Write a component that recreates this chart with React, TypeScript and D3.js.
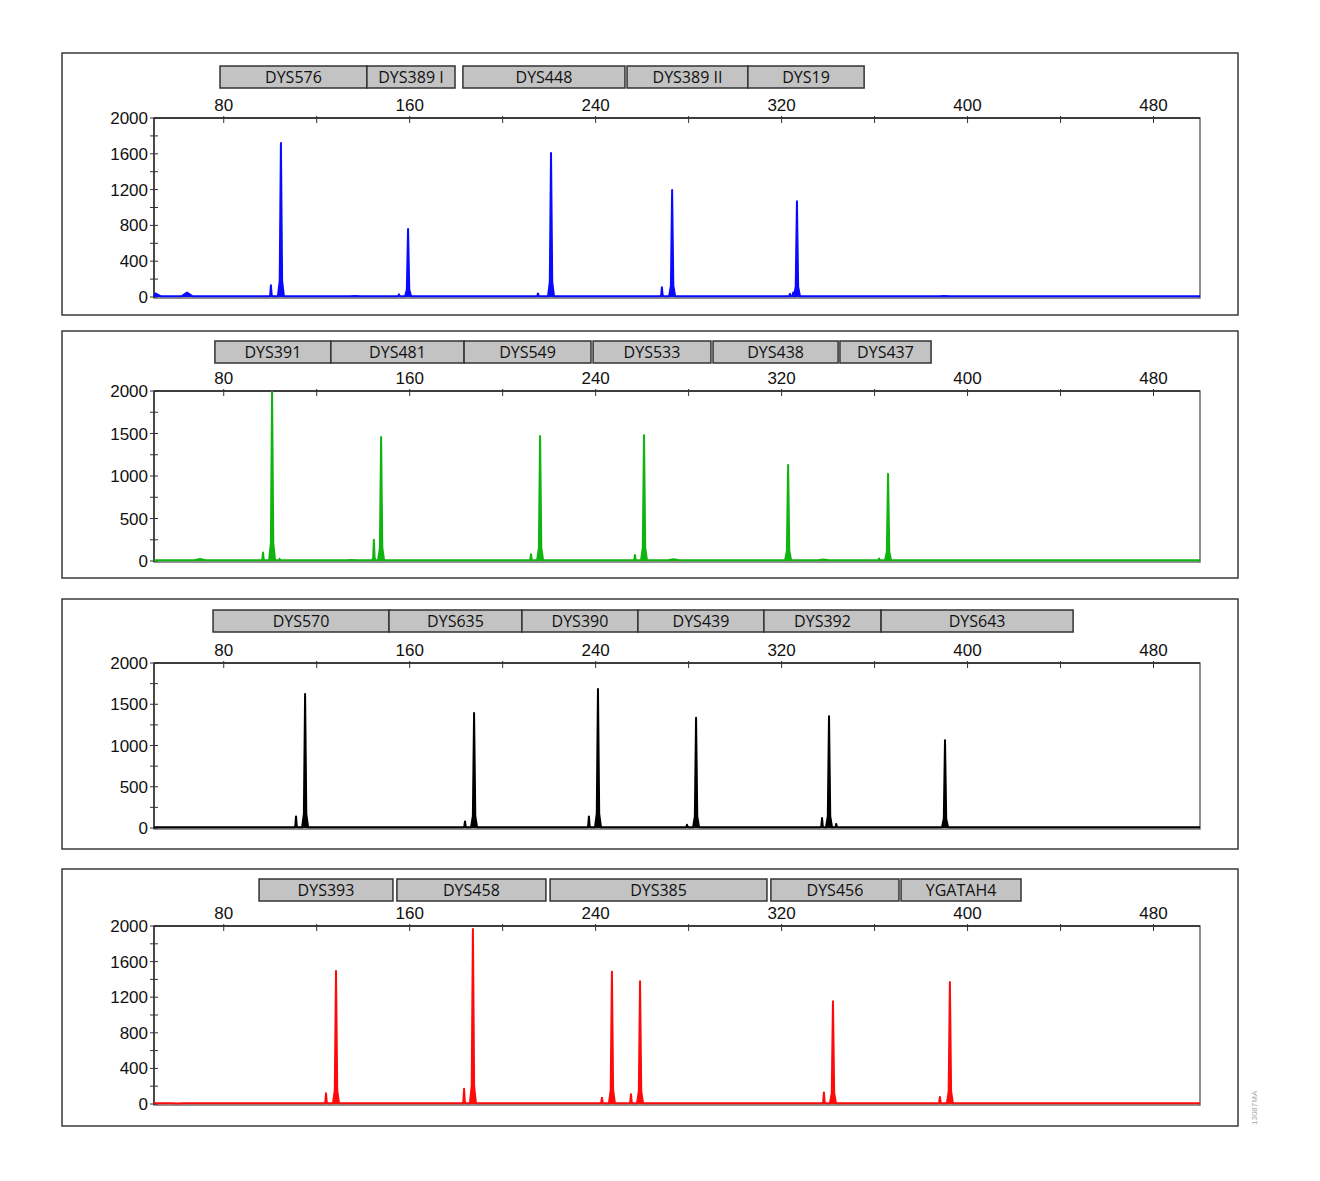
import React from 'react';
import * as d3 from 'd3';

// size axis (bp)
const sizeDomain = [50, 500];
const sizeTicks = [80, 120, 160, 200, 240, 280, 320, 360, 400, 440, 480];
const sizeLabels = [80, 160, 240, 320, 400, 480];

// RFU ticks
const rfuTicks400 = [0, 200, 400, 600, 800, 1000, 1200, 1400, 1600, 1800, 2000];
const rfuLabels400 = [0, 400, 800, 1200, 1600, 2000];
const rfuTicks500 = [0, 250, 500, 750, 1000, 1250, 1500, 1750, 2000];
const rfuLabels500 = [0, 500, 1000, 1500, 2000];

// bins: [name, start bp, end bp]
const blueBins: [string, number, number][] = [
  ['DYS576', 78.4, 141.6], ['DYS389 I', 141.6, 179.5], ['DYS448', 182.9, 252.6],
  ['DYS389 II', 253.5, 305.5], ['DYS19', 305.5, 355.5],
];
const greenBins: [string, number, number][] = [
  ['DYS391', 76.2, 126.1], ['DYS481', 126.1, 183.4], ['DYS549', 183.4, 238.0],
  ['DYS533', 238.9, 289.6], ['DYS438', 290.5, 344.3], ['DYS437', 345.1, 384.3],
];
const blackBins: [string, number, number][] = [
  ['DYS570', 75.4, 151.1], ['DYS635', 151.1, 208.3], ['DYS390', 208.3, 258.2],
  ['DYS439', 258.2, 312.4], ['DYS392', 312.4, 362.8], ['DYS643', 362.8, 445.4],
];
const redBins: [string, number, number][] = [
  ['DYS393', 95.2, 152.8], ['DYS458', 154.5, 218.6], ['DYS385', 220.4, 313.7],
  ['DYS456', 315.4, 370.5], ['YGATAH4', 371.4, 423.0],
];

// peaks: [bp, RFU]
const bluePeaks: [number, number][] = [
  [100.3, 130], [104.6, 1720], [155.4, 30], [159.3, 760], [215.2, 40], [220.8, 1610],
  [268.5, 110], [272.9, 1195], [323.6, 35], [325.0, 50], [326.6, 1070],
];
const greenPeaks: [number, number][] = [
  [96.9, 100], [100.8, 1990], [104.0, 25], [144.6, 250], [147.7, 1460], [212.2, 80],
  [216.1, 1470], [256.9, 70], [260.8, 1480], [322.8, 1130], [361.9, 30], [365.8, 1025],
];
const blackPeaks: [number, number][] = [
  [111.1, 140], [115.0, 1625], [183.8, 80], [187.7, 1395], [237.1, 140], [241.0, 1685],
  [279.3, 40], [283.2, 1335], [337.4, 120], [340.4, 1355], [343.5, 50], [390.3, 1065],
];
const redPeaks: [number, number][] = [
  [124.0, 120], [128.3, 1495], [183.4, 170], [187.2, 1965], [242.7, 70], [247.0, 1485],
  [255.2, 110], [259.1, 1380], [338.2, 130], [342.1, 1155], [388.1, 80], [392.4, 1370],
];

// broad low bumps: [bp, RFU]
const blueBumps: [number, number][] = [[50.6, 40], [64.2, 50], [136.5, 12], [390, 10]];
const greenBumps: [number, number][] = [[69.8, 25], [135, 12], [273.5, 22], [338, 18]];
const blackBumps: [number, number][] = [[60, 8], [250, 8]];
const redBumps: [number, number][] = [[60, 6]];

const panels = [
  { bins: blueBins, peaks: bluePeaks, bumps: blueBumps, color: '#0a0aff', ticks: rfuTicks400, labels: rfuLabels400, top: 53, bottom: 315, binY: 66, axisY: 118, zeroY: 297 },
  { bins: greenBins, peaks: greenPeaks, bumps: greenBumps, color: '#10b410', ticks: rfuTicks500, labels: rfuLabels500, top: 331, bottom: 578, binY: 341, axisY: 391, zeroY: 561 },
  { bins: blackBins, peaks: blackPeaks, bumps: blackBumps, color: '#000000', ticks: rfuTicks500, labels: rfuLabels500, top: 599, bottom: 849, binY: 610, axisY: 663, zeroY: 828 },
  { bins: redBins, peaks: redPeaks, bumps: redBumps, color: '#ff0a0a', ticks: rfuTicks400, labels: rfuLabels400, top: 869, bottom: 1126, binY: 879, axisY: 926, zeroY: 1104 },
];

const x = d3.scaleLinear().domain(sizeDomain).range([154, 1200]);
const baseRfu = 8;

function tracePoints(peaks: [number, number][], bumps: [number, number][]) {
  const pts: [number, number][] = [];
  const items = [
    ...peaks.map(([b, h]) => ({ b, h, w: h > 300 ? 1.3 : 0.8, spike: true })),
    ...bumps.map(([b, h]) => ({ b, h, w: 2.4, spike: false })),
  ].sort((a, c) => a.b - c.b);
  pts.push([sizeDomain[0], baseRfu]);
  items.forEach(({ b, h, w, spike }) => {
    const l = Math.max(sizeDomain[0], b - w);
    pts.push([l, baseRfu]);
    if (spike) pts.push([b - w * 0.4, baseRfu + (h - baseRfu) * 0.1]);
    pts.push([b, h]);
    if (spike) pts.push([b + w * 0.4, baseRfu + (h - baseRfu) * 0.1]);
    pts.push([b + w, baseRfu]);
  });
  pts.push([sizeDomain[1], baseRfu]);
  return pts;
}

function Panel({ p }: { p: typeof panels[number] }) {
  const y = d3.scaleLinear().domain([0, 2000]).range([p.zeroY, p.axisY]);
  const line = d3.line<[number, number]>()
    .x(d => x(d[0]))
    .y(d => y(d[1]));
  const area = d3.area<[number, number]>()
    .x(d => x(d[0]))
    .y0(y(0))
    .y1(d => y(d[1]));
  const pts = tracePoints(p.peaks, p.bumps);
  const binH = 22;
  return (
    <g>
      <rect x={62} y={p.top} width={1176} height={p.bottom - p.top} fill="none" stroke="#3a3a3a" strokeWidth={1.5} />
      {p.bins.map(([name, s, e]) => (
        <g key={name}>
          <rect x={x(s)} y={p.binY} width={x(e) - x(s)} height={binH} fill="#c3c3c3" stroke="#333" strokeWidth={1.5} />
          <text x={(x(s) + x(e)) / 2} y={p.binY + binH / 2 + 6} textAnchor="middle"
            fontFamily="'Open Sans', sans-serif" fontSize={16} fill="#111">{name}</text>
        </g>
      ))}
      {/* frame */}
      <rect x={x(sizeDomain[0])} y={p.axisY} width={x(sizeDomain[1]) - x(sizeDomain[0])}
        height={p.zeroY + 1 - p.axisY} fill="none" stroke="#555" strokeWidth={1.3} />
      <line x1={x(sizeDomain[0])} x2={x(sizeDomain[1])} y1={p.axisY} y2={p.axisY} stroke="#222" strokeWidth={1.3} />
      <line x1={x(sizeDomain[0])} x2={x(sizeDomain[0])} y1={p.axisY} y2={p.zeroY + 1} stroke="#222" strokeWidth={1.3} />
      {sizeTicks.map(t => (
        <line key={t} x1={x(t)} x2={x(t)} y1={p.axisY - 2} y2={p.axisY + 5} stroke="#333" strokeWidth={1} />
      ))}
      {sizeLabels.map(t => (
        <text key={t} x={x(t)} y={p.axisY - 7} textAnchor="middle"
          fontFamily="'Liberation Sans', Arial, sans-serif" fontSize={17} fill="#111">{t}</text>
      ))}
      {p.ticks.map(t => (
        <line key={t} x1={x(sizeDomain[0]) - 4} x2={x(sizeDomain[0]) + 4} y1={y(t)} y2={y(t)} stroke="#333" strokeWidth={1} />
      ))}
      {p.labels.map(t => (
        <text key={t} x={x(sizeDomain[0]) - 6} y={y(t) + 6} textAnchor="end"
          fontFamily="'Liberation Sans', Arial, sans-serif" fontSize={17} fill="#111">{t}</text>
      ))}
      <path d={area(pts) || ''} fill={p.color} stroke="none" />
      <path d={line(pts) || ''} fill="none" stroke={p.color} strokeWidth={2} strokeLinejoin="round" />
    </g>
  );
}

export default function App() {
  return (
    <svg width={1320} height={1181} style={{ position: 'absolute', left: 0, top: 0, background: '#fff' }}>
      <rect width={1320} height={1181} fill="#fff" />
      {panels.map((p, i) => <Panel key={i} p={p} />)}
      <text transform="translate(1257,1125) rotate(-90)" fontFamily="'Liberation Sans', Arial, sans-serif"
        fontSize={8} fill="#aaa">13087MA</text>
    </svg>
  );
}
